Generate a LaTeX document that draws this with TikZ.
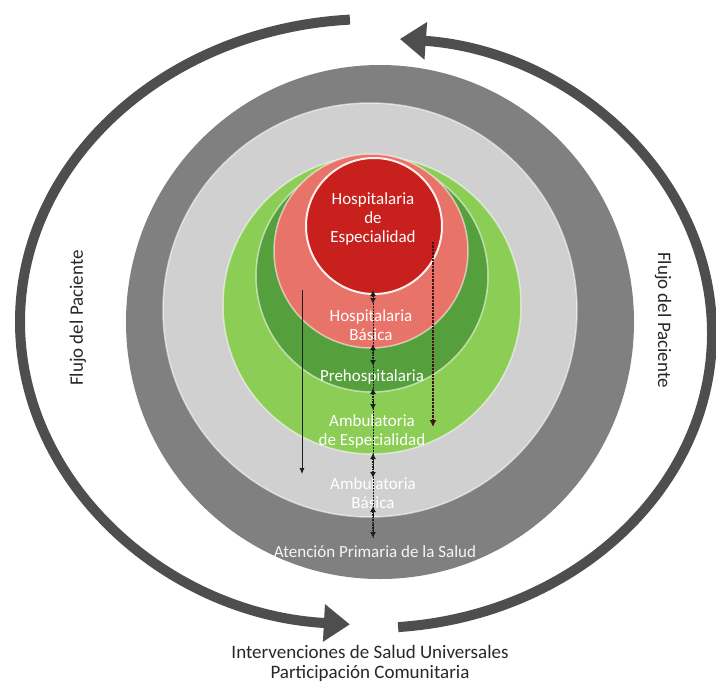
\documentclass[tikz,border=0pt]{standalone}
\usepackage{fontspec}
\setmainfont{Carlito}
\usetikzlibrary{arrows.meta}
\definecolor{dgray}{RGB}{128,128,128}
\definecolor{lgray}{RGB}{208,208,208}
\definecolor{lgreen}{RGB}{140,205,85}
\definecolor{dgreen}{RGB}{85,160,60}
\definecolor{pinkred}{RGB}{232,115,105}
\definecolor{dred}{RGB}{200,32,28}
\definecolor{arrowgray}{RGB}{78,78,78}
\definecolor{txt}{RGB}{40,40,40}
\definecolor{dotc}{RGB}{30,30,30}
\definecolor{dotred}{RGB}{70,20,20}
\begin{document}
\begin{tikzpicture}[x=1pt,y=1pt,
  lvl/.style={text=white, align=center, font=\fontsize{17}{19}\selectfont, inner sep=0pt},
  outer/.style={text=txt, align=center, font=\fontsize{19}{20}\selectfont, inner sep=0pt},
  flow/.style={arrowgray, line width=10pt, -{Triangle[width=36pt,length=26pt]}},
  ring/.style={draw=white, draw opacity=0.55, line width=1.5pt},
  link/.style={dotc, densely dotted, line width=1.6pt, {Latex[length=6pt,width=6pt]}-{Latex[length=6pt,width=6pt]}},
  thinlink/.style={dotc, densely dotted, line width=0.5pt}
]
\useasboundingbox (0,0) rectangle (716,-686);
\fill[white] (0,0) rectangle (716,-686);

% outer flow arrows
\draw[flow] (349.9,-19.6) arc[start angle=93.6, end angle=266.4, x radius=352, y radius=303];
\draw[flow] (398.1,-627.1) arc[start angle=-85.6, end angle=85.3, x radius=340, y radius=295];

% nested circles
\fill[dgray] (380,-322) ellipse [x radius=254, y radius=257];
\filldraw[fill=lgray, ring] (370,-310) circle [radius=207];
\filldraw[fill=lgreen, ring] (372,-305) circle [radius=149];
\filldraw[fill=dgreen, ring] (372,-276) circle [radius=116];
\filldraw[fill=pinkred, ring] (371,-251) circle [radius=97];
\filldraw[fill=dred, draw=white!75!pink, line width=2pt] (374,-226) circle [radius=68];

% level labels
\node[lvl] (he) at (373,-219) {Hospitalaria\\de\\Especialidad};
\node[lvl] (hb) at (371,-325) {Hospitalaria\\Básica};
\node[lvl] (pr) at (372,-377) {Prehospitalaria};
\node[lvl] (ae) at (372,-431) {Ambulatoria\\de Especialidad};
\node[lvl] (ab) at (373,-493) {Ambulatoria\\Básica};
\node[lvl, text=white!92!gray] (ap) at (375,-552) {Atención Primaria de la Salud};

% coordinates for connectors
\coordinate (c0) at (373,-292);
\coordinate (c9) at (373,-538);
\coordinate (a1) at (373,-290); \coordinate (a2) at (373,-304);
\coordinate (b1) at (373,-344); \coordinate (b2) at (373,-366);
\coordinate (d1) at (373,-388); \coordinate (d2) at (373,-410);
\coordinate (e1) at (373,-453); \coordinate (e2) at (373,-478);
\coordinate (f1) at (373,-506); \coordinate (f2) at (373,-538);
\coordinate (r1) at (433,-242); \coordinate (r2) at (433,-427);
\coordinate (l1) at (302,-290); \coordinate (l2) at (302,-474);

% connectors
\draw[thinlink] (c0) -- (c9);
\draw[link] (a1) -- (a2);
\draw[link] (b1) -- (b2);
\draw[link] (d1) -- (d2);
\draw[link] (e1) -- (e2);
\draw[link] (f1) -- (f2);
\draw[dotred, densely dotted, line width=2.4pt, -{Latex[length=7pt,width=7pt]}] (r1) -- (r2);
\draw[dotc, line width=0.8pt, -{Latex[length=6pt,width=5pt]}] (l1) -- (l2);

% outer labels
\node[outer, rotate=90] (fl) at (78,-318) {Flujo del Paciente};
\node[outer, rotate=-90] (fr) at (663,-320) {Flujo del Paciente};
\node[outer] (iv) at (370,-663) {Intervenciones de Salud Universales\\Participación Comunitaria};
\end{tikzpicture}
\end{document}
